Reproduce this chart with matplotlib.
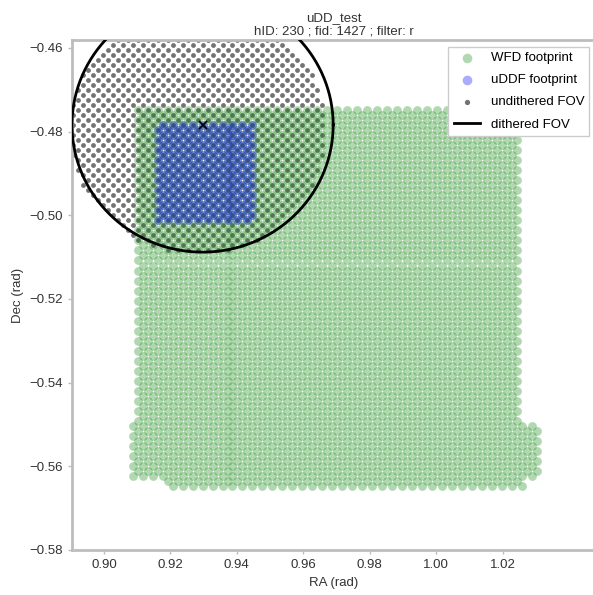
import numpy as np
import matplotlib.pyplot as plt

plt.rcParams['font.family'] = ['Liberation Sans', 'DejaVu Sans']
plt.rcParams['font.size'] = 9.5

# healpix-like lattice of the sky pixels (staggered rows)
ra_step = 0.0030
dec_step = 0.0012
ra_anchor = 0.9297
dec_anchor = -0.4784

# WFD footprint bands: (ra_min, ra_max, dec_top, dec_bottom)
wfd_bands = [
    (0.9100, 1.0245, -0.4738, -0.5500),
    (0.9085, 1.0305, -0.5500, -0.5632),
    (0.9180, 1.0262, -0.5632, -0.5650),
]
# uDDF footprint
uddf_bands = [
    (0.9150, 0.9452, -0.4778, -0.5012),
]

# pointing: dithered and undithered FOV centres, FOV radii
dith_center = (0.9297, -0.4784)
undith_center = (0.9282, -0.4798)
fov_radius_ra = 0.0393
fov_radius_dec = 0.0304


def lattice(ra_lo, ra_hi, dec_hi, dec_lo):
    ras, decs = [], []
    k0 = int(np.ceil((dec_anchor - dec_hi) / dec_step - 1e-9))
    k1 = int(np.floor((dec_anchor - dec_lo) / dec_step + 1e-9))
    for k in range(k0, k1 + 1):
        dec = dec_anchor - k * dec_step
        start = ra_anchor + 0.5 * ra_step * (k % 2)
        j0 = int(np.ceil((ra_lo - start) / ra_step))
        j1 = int(np.floor((ra_hi - start) / ra_step))
        for j in range(j0, j1 + 1):
            ras.append(start + j * ra_step)
            decs.append(dec)
    return np.array(ras), np.array(decs)


def footprint(bands):
    pts = [lattice(*b) for b in bands]
    return np.concatenate([p[0] for p in pts]), np.concatenate([p[1] for p in pts])


wfd_ra, wfd_dec = footprint(wfd_bands)
uddf_ra, uddf_dec = footprint(uddf_bands)

# undithered FOV pixels: everything inside the FOV around the undithered centre
all_ra, all_dec = lattice(0.85, 1.0, -0.43, -0.53)
inside = ((all_ra - undith_center[0]) / (fov_radius_ra - 0.0006)) ** 2 + \
         ((all_dec - undith_center[1]) / (fov_radius_dec - 0.0006)) ** 2 <= 1
fov_ra, fov_dec = all_ra[inside], all_dec[inside]

theta = np.linspace(0, 2 * np.pi, 400)
circ_ra = dith_center[0] + fov_radius_ra * np.cos(theta)
circ_dec = dith_center[1] + fov_radius_dec * np.sin(theta)

fig = plt.figure(figsize=(5.93, 5.95), dpi=100)
ax = fig.add_axes([72 / 593, 45 / 595, 524 / 593, 510 / 595])

ax.scatter(fov_ra, fov_dec, s=12, marker='o', c='k', alpha=0.55, linewidths=0,
           zorder=1, label='undithered FOV')
ax.scatter(wfd_ra, wfd_dec, s=40, c='green', alpha=0.3, linewidths=0,
           zorder=2, label='WFD footprint')
ax.scatter(uddf_ra, uddf_dec, s=40, c='blue', alpha=0.33, linewidths=0,
           zorder=3, label='uDDF footprint')
ax.plot(circ_ra, circ_dec, c='k', lw=2, zorder=4, label='dithered FOV')
ax.plot(dith_center[0], dith_center[1], 'kx', ms=6, mew=1.2, zorder=5)

ax.set_xlim(0.8904, 1.0481)
ax.set_ylim(-0.58, -0.4581)
ax.set_xticks([0.90, 0.92, 0.94, 0.96, 0.98, 1.00, 1.02])
ax.set_yticks([-0.46, -0.48, -0.50, -0.52, -0.54, -0.56, -0.58])

for side in ['left', 'bottom', 'top', 'right']:
    ax.spines[side].set_color('#bdbdbd')
    ax.spines[side].set_linewidth(2)
ax.tick_params(axis='both', length=3, width=1, color='#bdbdbd', labelcolor='#333333')

ax.set_xlabel('RA (rad)', color='#333333')
ax.set_ylabel('Dec (rad)', color='#333333')
ax.set_title('uDD_test\nhID: 230 ; fid: 1427 ; filter: r', color='#333333',
             fontsize=9.5, pad=4)

handles, labels = ax.get_legend_handles_labels()
order = [1, 2, 0, 3]
ax.legend([handles[i] for i in order], [labels[i] for i in order],
          loc='upper right', frameon=True, fancybox=False, edgecolor='#cccccc',
          framealpha=1, fontsize=9.5, borderaxespad=0.5, labelspacing=0.75,
          markerscale=1.1)

fig.savefig('out.png', dpi=100)
